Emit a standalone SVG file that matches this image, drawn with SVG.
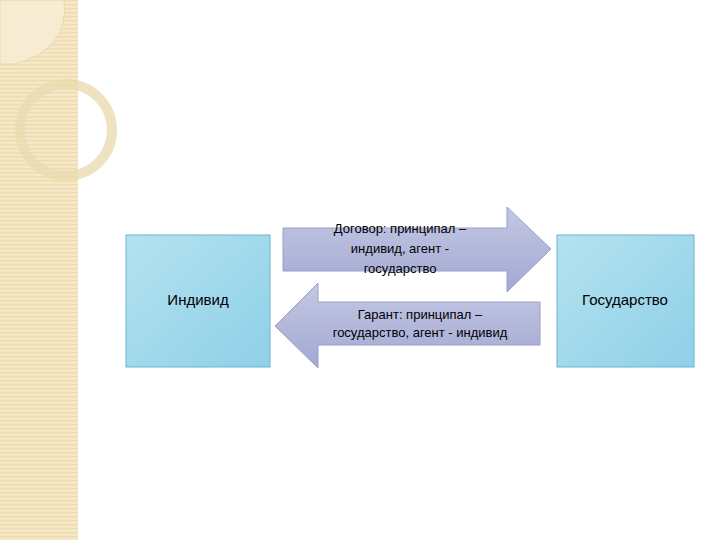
<svg xmlns="http://www.w3.org/2000/svg" width="720" height="540" viewBox="0 0 720 540">
<defs>
<pattern id="stripe" width="4" height="4" patternUnits="userSpaceOnUse"><rect width="4" height="4" fill="#f4e8c8"/><rect width="4" height="1.5" fill="#efdcae"/></pattern>
<linearGradient id="box" x1="0" y1="0" x2="1" y2="1"><stop offset="0" stop-color="#b4e2f0"/><stop offset="1" stop-color="#8fd0e8"/></linearGradient>
<linearGradient id="arr" x1="0" y1="0" x2="0" y2="1"><stop offset="0" stop-color="#c4c8e4"/><stop offset="1" stop-color="#a2a8d2"/></linearGradient>
<style>.t{font-family:"Liberation Sans",Arial,sans-serif;fill:#000;text-anchor:middle}.b{fill:url(#box);stroke:#6ab4d2;stroke-width:1}.a{fill:url(#arr);stroke:#9aa0c8;stroke-width:1}</style>
</defs>
<rect width="720" height="540" fill="#fff"/>
<rect width="78" height="540" fill="url(#stripe)"/>
<path d="M0 0 H64 Q70 50 14 64 H0Z" fill="#f8efd8" stroke="#e6d6a8" opacity="0.8"/>
<circle cx="66" cy="130" r="46" fill="none" stroke="#eadcb0" stroke-width="10" opacity="0.8"/>
<g id="n1"><rect class="b" x="126" y="235" width="144" height="132"/><text class="t" x="198" y="305" font-size="15">Индивид</text></g>
<g id="n2"><rect class="b" x="557" y="235" width="137" height="132"/><text class="t" x="625" y="305" font-size="15">Государство</text></g>
<g id="connectors">
<g id="e1"><path class="a" d="M283 228 H507 V207 L551 249 L507 292 V271 H283Z"/>
<text class="t" font-size="13"><tspan x="400" y="233">Договор: принципал –</tspan><tspan x="400" y="253">индивид, агент -</tspan><tspan x="400" y="273">государство</tspan></text></g>
<g id="e2"><path class="a" d="M540 302 H318 V283 L275 326 L318 368 V345 H540Z"/>
<text class="t" font-size="13"><tspan x="420" y="319">Гарант: принципал –</tspan><tspan x="420" y="337">государство, агент - индивид</tspan></text></g>
</g>
</svg>
